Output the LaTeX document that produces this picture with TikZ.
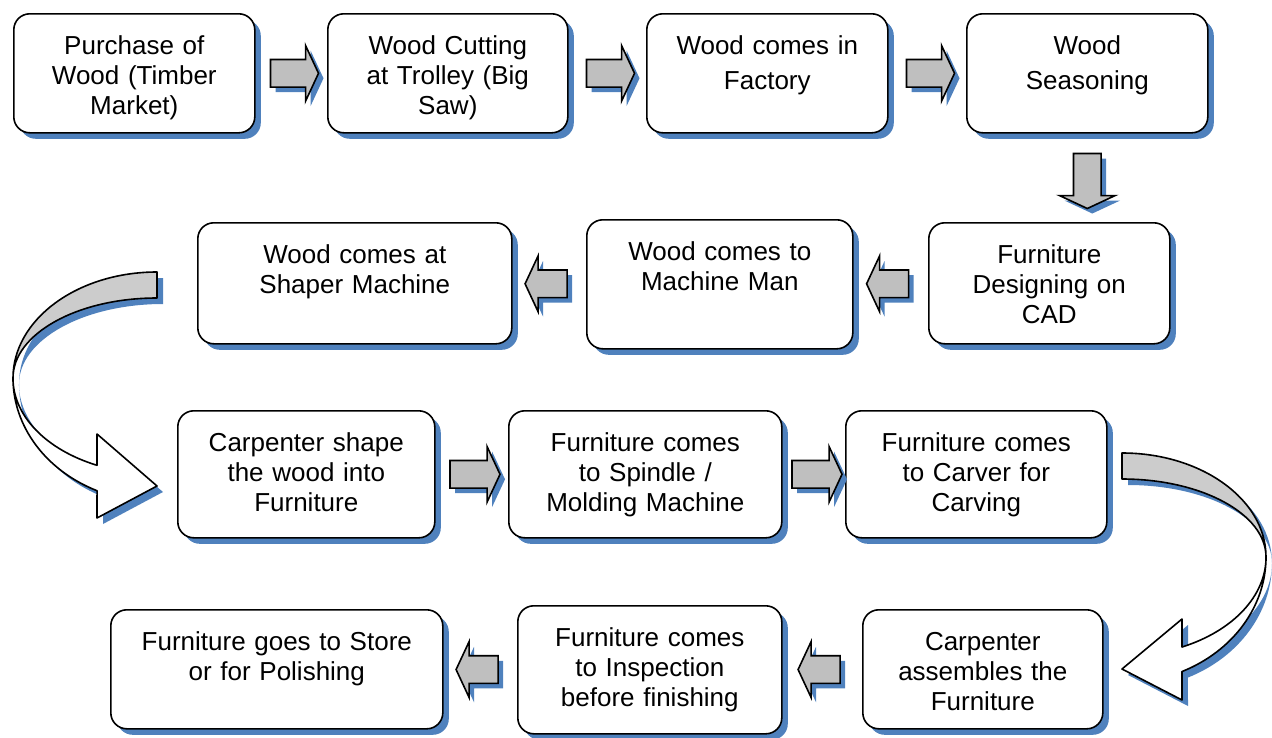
\documentclass[tikz,border=0pt]{standalone}
\usepackage{fontspec}
\setmainfont{Liberation Sans}
\usetikzlibrary{shapes.arrows,shadows,calc}
\definecolor{shadowblue}{RGB}{79,129,189}

\begin{document}
\begin{tikzpicture}[x=1pt,y=-1pt,
  stage/.style 2 args={draw, line width=1.6pt, rounded corners=16pt, fill=white, anchor=north west,
    inner sep=0pt, align=center, font=\fontsize{26}{30}\selectfont,
    minimum width=#1, text width=#1-12pt, text height=41pt, text depth=#2-41pt,
    drop shadow={shadow xshift=6pt, shadow yshift=-6pt, fill=shadowblue, opacity=1}},
  flow/.style={single arrow, draw, line width=1.6pt, fill=gray!50, inner xsep=0pt, inner ysep=13pt,
    minimum height=#1, single arrow head extend=14pt, single arrow tip angle=130,
    drop shadow={shadow xshift=5pt, shadow yshift=-5pt, fill=shadowblue, opacity=1}},
  band/.style={line width=1.6pt, line join=round}]
\useasboundingbox (0,0) rectangle (1272,737);
\node[stage={241pt}{119pt}] (b1) at (13,13) {Purchase of\\Wood (Timber\\Market)};
\node[stage={240pt}{119pt}] (b2) at (327,13) {Wood Cutting\\at Trolley (Big\\Saw)};
\node[stage={241pt}{119pt}] (b3) at (646,13) {Wood comes in\\[5pt]Factory};
\node[stage={241pt}{119pt}] (b4) at (966,13) {Wood\\[5pt]Seasoning};
\node[stage={241pt}{121pt}] (b5) at (928,222) {Furniture\\Designing on\\CAD};
\node[stage={266pt}{129pt}] (b6) at (586,219) {Wood comes to\\Machine Man};
\node[stage={314pt}{121pt}] (b7) at (197,222) {Wood comes at\\Shaper Machine};
\node[stage={257pt}{127pt}] (b8) at (177,410) {Carpenter shape\\the wood into\\Furniture};
\node[stage={273pt}{127pt}] (b9) at (508,410) {Furniture comes\\to Spindle /\\Molding Machine};
\node[stage={261pt}{127pt}] (b10) at (845,410) {Furniture comes\\to Carver for\\Carving};
\node[stage={240pt}{119pt}] (b11) at (862,609) {Carpenter\\assembles the\\Furniture};
\node[stage={264pt}{128pt}] (b12) at (517,605) {Furniture comes\\to Inspection\\before finishing};
\node[stage={332pt}{119pt}] (b13) at (110,609) {Furniture goes to Store\\or for Polishing};

\node[flow=48pt] (a1) at ($(b1.east)!0.5!(b2.west)$) {};
\node[flow=48pt] (a2) at ($(b2.east)!0.5!(b3.west)$) {};
\node[flow=48pt] (a3) at ($(b3.east)!0.5!(b4.west)$) {};
\node[flow=55pt, shape border rotate=270, inner xsep=13pt, inner ysep=0pt] (a4) at ($(b4.south)!0.5!(b4.south |- b5.north)$) {};
\node[flow=42pt, shape border rotate=180] (a5) at ($(b5.west)!0.5!(b6.east)$) {};
\node[flow=42pt, shape border rotate=180] (a6) at ($(b6.west)!0.5!(b7.east)$) {};
\node[flow=50pt] (a8) at ($(b8.east)!0.5!(b9.west)$) {};
\node[flow=50pt] (a9) at ($(b9.east)!0.5!(b10.west)$) {};
\node[flow=42pt, shape border rotate=180] (a11) at ($(b11.west)!0.5!(b12.east)$) {};
\node[flow=42pt, shape border rotate=180] (a12) at ($(b12.west)!0.5!(b13.east)$) {};

\coordinate (bendL) at (157,378);
\coordinate (bendR) at (1122,557);
\begin{scope}[shift={(bendL)}]
\fill[shadowblue, shift={(6,6)}] (0,-106) arc[start angle=270, end angle=180, x radius=144, y radius=106]
  arc[start angle=180, end angle=270, x radius=144, y radius=80] -- cycle
  (-144,0) arc[start angle=180, end angle=114.6, x radius=144, y radius=124] -- (-60,140) -- (0,108)
  -- (-60,56) -- (-60,87.3) arc[start angle=114.6, end angle=180, x radius=144, y radius=96] -- cycle;
\draw[band, fill=gray!40] (0,-106) arc[start angle=270, end angle=180, x radius=144, y radius=106]
  arc[start angle=180, end angle=270, x radius=144, y radius=80] -- cycle;
\draw[band, fill=white] (-144,0) arc[start angle=180, end angle=114.6, x radius=144, y radius=124] -- (-60,140) -- (0,108)
  -- (-60,56) -- (-60,87.3) arc[start angle=114.6, end angle=180, x radius=144, y radius=96] -- cycle;
\end{scope}
\begin{scope}[shift={(bendR)}]
\fill[shadowblue, shift={(6,6)}] (0,-104) arc[start angle=270, end angle=360, x radius=144, y radius=104]
  arc[start angle=0, end angle=-90, x radius=144, y radius=78] -- cycle
  (144,0) arc[start angle=0, end angle=65.4, x radius=144, y radius=126] -- (60,143) -- (0,112)
  -- (60,62) -- (60,90) arc[start angle=65.4, end angle=0, x radius=144, y radius=99] -- cycle;
\draw[band, fill=gray!40] (0,-104) arc[start angle=270, end angle=360, x radius=144, y radius=104]
  arc[start angle=0, end angle=-90, x radius=144, y radius=78] -- cycle;
\draw[band, fill=white] (144,0) arc[start angle=0, end angle=65.4, x radius=144, y radius=126] -- (60,143) -- (0,112)
  -- (60,62) -- (60,90) arc[start angle=65.4, end angle=0, x radius=144, y radius=99] -- cycle;
\end{scope}
\end{tikzpicture}
\end{document}
